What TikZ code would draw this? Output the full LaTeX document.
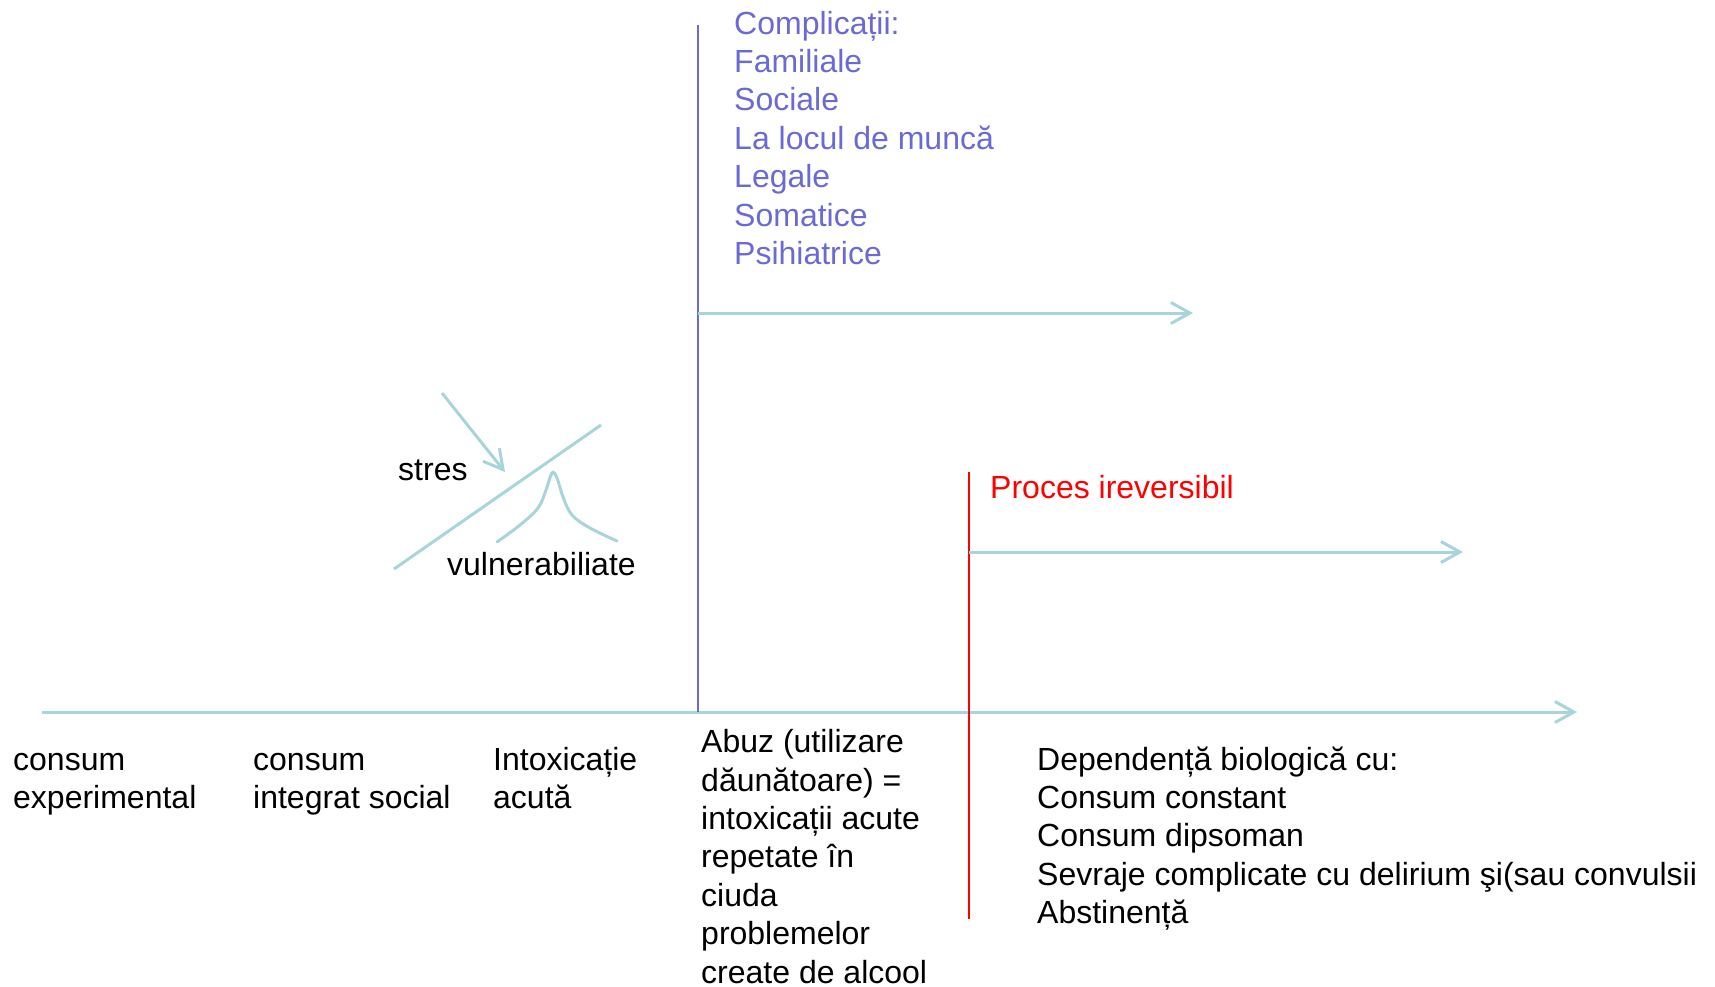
\documentclass[tikz,border=0pt]{standalone}
\usepackage{fontspec}
\setmainfont{Liberation Sans}
\usetikzlibrary{arrows.meta}
\definecolor{lineblue}{RGB}{168,213,218}
\definecolor{compblue}{RGB}{106,106,212}
\definecolor{irred}{RGB}{255,0,0}
\begin{document}
\begin{tikzpicture}[x=1pt,y=-1pt,
  txt/.style={font=\fontsize{32}{38.4}\selectfont, inner sep=0pt, anchor=base west, align=left},
  lightline/.style={draw=lineblue, line width=3pt},
  barb/.style={-{Straight Barb[length=19pt,width=21pt]}}]
\useasboundingbox (0,0) rectangle (1715,986);

% coordinates
\coordinate (axisL) at (42,712);
\coordinate (axisR) at (1577,712);
\coordinate (blueTop) at (698,25);
\coordinate (blueBot) at (698,712);
\coordinate (compL) at (698,313);
\coordinate (compR) at (1193,313);
\coordinate (redTop) at (969,472);
\coordinate (redBot) at (969,919);
\coordinate (redL) at (969,552);
\coordinate (redR) at (1463,552);
\coordinate (diagA) at (394,569);
\coordinate (diagB) at (601,425);
\coordinate (stresA) at (442,393);
\coordinate (stresB) at (505,472);

% lines
\draw[lightline, barb] (axisL) -- (axisR);
\draw[draw=compblue, line width=2.8pt] (blueTop) -- (blueBot);
\draw[lightline, barb] (compL) -- (compR);
\draw[draw=irred, line width=2.8pt] (redTop) -- (redBot);
\draw[lightline, barb] (redL) -- (redR);
\draw[lightline] (diagA) -- (diagB);
\draw[lightline, barb] (stresA) -- (stresB);
\draw[lightline, line cap=round] plot[smooth, tension=0.6] coordinates
  {(497,542) (520,525) (538,508) (546,490) (552,473) (557,478) (563,497) (572,515) (590,528) (617,541)};

% texts (anchor = baseline of the last line)
\node[txt, text=compblue] (comp) at (734,264.4) {Complicații:\\Familiale\\Sociale\\La locul de muncă\\Legale\\Somatice\\Psihiatrice};
\node[txt, text=irred] (proces) at (990,498) {Proces ireversibil};
\node[txt] (stres) at (398,480) {stres};
\node[txt] (vuln) at (447,575) {vulnerabiliate};
\node[txt] (exp) at (13,808.4) {consum\\experimental};
\node[txt] (soc) at (253,808.4) {consum\\integrat social};
\node[txt] (intox) at (493,808.4) {Intoxicație\\acută};
\node[txt] (abuz) at (701,983) {Abuz (utilizare\\dăunătoare) =\\intoxicații acute\\repetate în\\ciuda\\problemelor\\create de alcool};
\node[txt] (dep) at (1037,923.6) {Dependență biologică cu:\\Consum constant\\Consum dipsoman\\Sevraje complicate cu delirium şi(sau convulsii\\Abstinență};
\end{tikzpicture}
\end{document}
